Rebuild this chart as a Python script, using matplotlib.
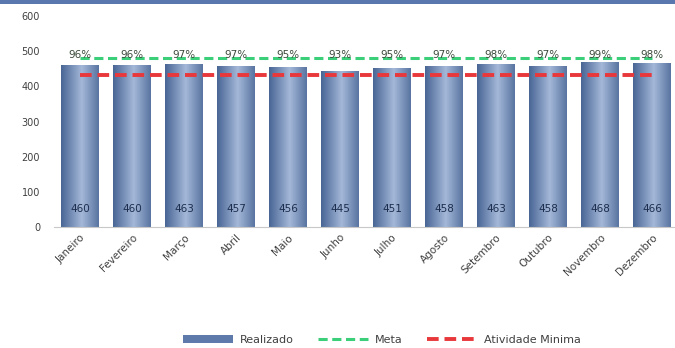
import matplotlib
matplotlib.use("Agg")
import matplotlib.pyplot as plt
import numpy as np
from matplotlib.patches import Rectangle
from matplotlib.lines import Line2D

months = ["Janeiro", "Fevereiro", "Março", "Abril", "Maio", "Junho", "Julho",
          "Agosto", "Setembro", "Outubro", "Novembro", "Dezembro"]
realizado = [460, 460, 463, 457, 456, 445, 451, 458, 463, 458, 468, 466]
meta = [480] * 12
atividade_minima = [432] * 12
pct_labels = ["96%", "96%", "97%", "97%", "95%", "93%", "95%", "97%", "98%", "97%", "99%", "98%"]
yticks = [0, 100, 200, 300, 400, 500, 600]

W, H = 675, 348
fig = plt.figure(figsize=(W / 100, H / 100), dpi=100)
fig.patch.set_facecolor("white")

# top band
fig.patches.append(Rectangle((0, 1 - 4 / H), 1, 4 / H, transform=fig.transFigure,
                             facecolor="#5a78ad", edgecolor="none", zorder=0))

ax = fig.add_axes([54 / W, (H - 227) / H, 624 / W, 211 / H])
x = np.arange(len(months))
bw = 0.73
bars = ax.bar(x, realizado, width=bw, color="none", edgecolor="none", zorder=2)

grad = np.linspace(0, 1, 64)
prof = 1 - np.abs(grad - 0.55) * 1.6
prof = np.clip(prof, 0, 1)
cmap = matplotlib.colors.LinearSegmentedColormap.from_list("b", ["#3c5a8c", "#a4b8d8"])
for b in bars:
    x0, w, h = b.get_x(), b.get_width(), b.get_height()
    im = ax.imshow(prof[np.newaxis, :], extent=[x0, x0 + w, 0, h], aspect="auto",
                   cmap=cmap, vmin=0, vmax=1, zorder=2)
    im.set_clip_path(b)

ax.plot(x, atividade_minima, color="#e8383b", lw=2.8, ls=(0, (3, 1.5)), zorder=3)
ax.plot(x, meta, color="#3ccf7a", lw=2.2, ls=(0, (3, 1.5)), zorder=3)

for xi, v, p in zip(x, realizado, pct_labels):
    ax.text(xi, 52, str(v), ha="center", va="center", fontsize=7.5, color="#1d2d4d", zorder=4)
    ax.text(xi, 489, p, ha="center", va="center", fontsize=7.5, color="#3a4a3a", zorder=4)

ax.set_xlim(-0.5, 11.5)
ax.set_ylim(0, 600)
ax.set_yticks(yticks)
ax.set_yticklabels([str(t) for t in yticks], fontsize=7, color="#404040")
ax.set_xticks(x)
ax.set_xticklabels(months, rotation=45, ha="right", rotation_mode="anchor",
                   fontsize=7.5, color="#404040")
for s in ["top", "right", "left"]:
    ax.spines[s].set_visible(False)
ax.spines["bottom"].set_color("#c8c8c8")
ax.tick_params(axis="both", length=0, pad=4)
ax.tick_params(axis="y", pad=10)

handles = [Rectangle((0, 0), 1, 1, facecolor="#5d7aaa", edgecolor="none"),
           Line2D([], [], color="#3ccf7a", lw=2.2, ls=(0, (3, 1.5))),
           Line2D([], [], color="#e8383b", lw=2.8, ls=(0, (3, 1.5)))]
fig.legend(handles, ["Realizado", "Meta", "Atividade Minima"], loc="center",
           bbox_to_anchor=(382 / W, 1 - 340 / H), ncol=3, frameon=False,
           fontsize=8, handlelength=4.5, columnspacing=2.2, handletextpad=0.6,
           labelcolor="#404040")

fig.savefig("out.png", dpi=100)
